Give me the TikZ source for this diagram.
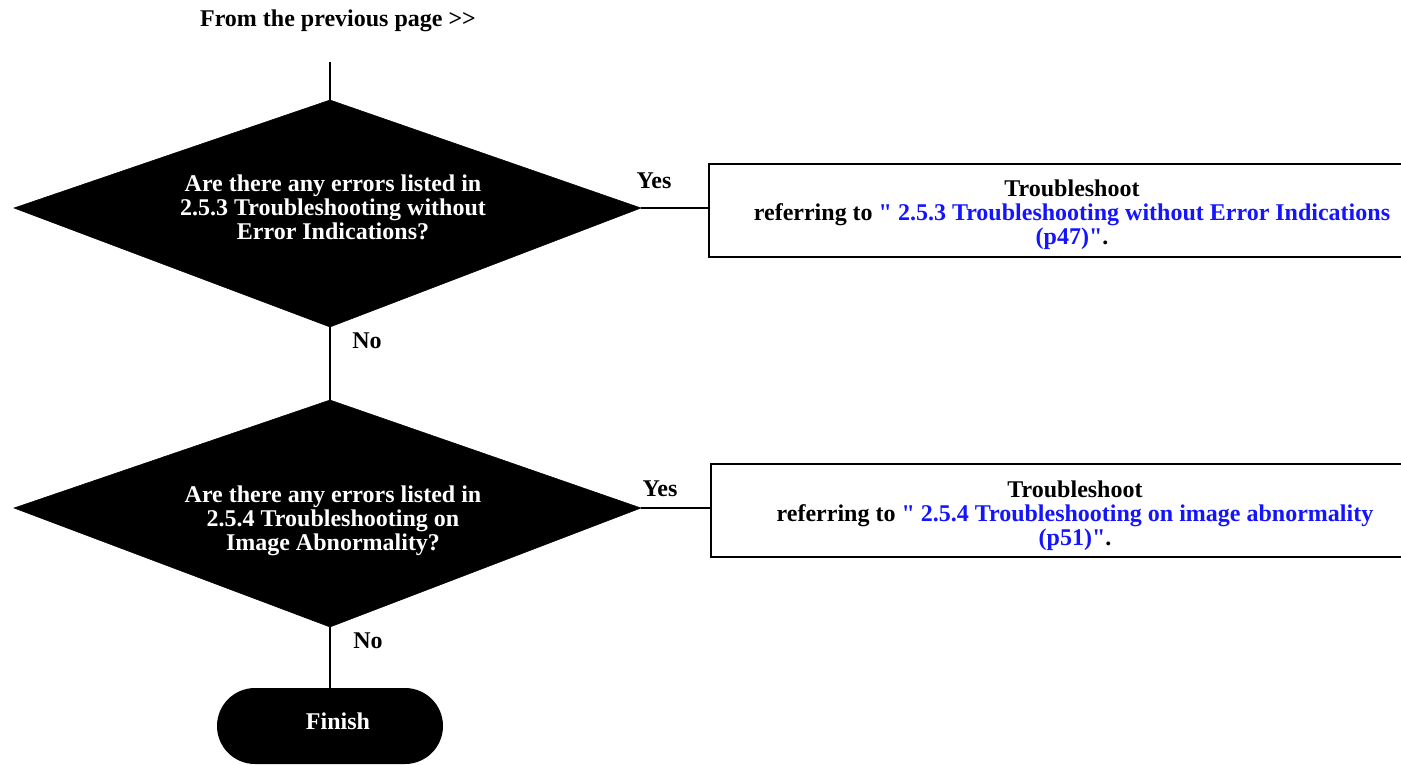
\documentclass[tikz,border=0pt]{standalone}
\usepackage{fontspec}
\setmainfont{Liberation Serif}[Ligatures=TeXOff]
\usetikzlibrary{shapes.misc}
\definecolor{linkblue}{RGB}{20,20,255}
\tikzset{
  lbl/.style={font=\fontsize{24}{24}\selectfont\bfseries, inner sep=0pt, align=center},
  wlbl/.style={lbl, text=white},
  conn/.style={line width=2pt, black},
  boxframe/.style={draw=black, line width=2.6pt, fill=white},
  dfill/.style={fill=black, draw=black, line width=0.5pt},
  finishbox/.style={fill=black, rounded rectangle, minimum width=226pt, minimum height=76pt, inner sep=0pt}
}
\begin{document}
\begin{tikzpicture}[x=1pt,y=-1pt]
\useasboundingbox (0,0) rectangle (1401,764);
\clip (0,0) rectangle (1401,764);
% top label
\node[lbl] (from) at (338,21) {From the previous page >>};
\coordinate (start) at (330,62);
% diamond 1
\coordinate (d1t) at (330,100);
\coordinate (d1r) at (641,208);
\coordinate (d1b) at (330,327);
\coordinate (d1l) at (14,208);
\fill[dfill] (d1t) -- (d1r) -- (d1b) -- (d1l) -- cycle;
\node[wlbl] (q1) at (333,207) {Are there any errors listed in\\2.5.3 Troubleshooting without\\Error Indications?};
% diamond 2
\coordinate (d2t) at (330,400);
\coordinate (d2r) at (641,508);
\coordinate (d2b) at (330,627);
\coordinate (d2l) at (14,508);
\fill[dfill] (d2t) -- (d2r) -- (d2b) -- (d2l) -- cycle;
\node[wlbl] (q2) at (333,521) {Are there any errors listed in\\2.5.4 Troubleshooting on\\Image Abnormality?};
% boxes
\draw[boxframe] (709,164) rectangle (1440,257);
\coordinate (b1l) at (709,208);
\node[lbl] (t1) at (1072,215) {Troubleshoot\\referring to \textcolor{linkblue}{" 2.5.3 Troubleshooting without Error Indications}\\\textcolor{linkblue}{(p47)"}.};
\draw[boxframe] (711,464) rectangle (1440,557);
\coordinate (b2l) at (711,507);
\node[lbl] (t2) at (1075,516) {Troubleshoot\\referring to \textcolor{linkblue}{" 2.5.4 Troubleshooting on image abnormality}\\\textcolor{linkblue}{(p51)"}.};
% finish
\node[finishbox] (fin) at (330,726) {};
\node[wlbl] (fint) at (338,721) {Finish};
% connectors
\draw[conn] (start) -- (d1t);
\draw[conn] (d1b) -- (d2t);
\draw[conn] (d2b) -- (fin.north);
\draw[conn] (d1r) -- (b1l);
\draw[conn] (d2r) -- (d2r -| b2l);
% labels
\node[lbl] (yes1) at (654,181) {Yes};
\node[lbl] (yes2) at (660,489) {Yes};
\node[lbl] (no1) at (367,341) {No};
\node[lbl] (no2) at (368,641) {No};
\end{tikzpicture}
\end{document}
